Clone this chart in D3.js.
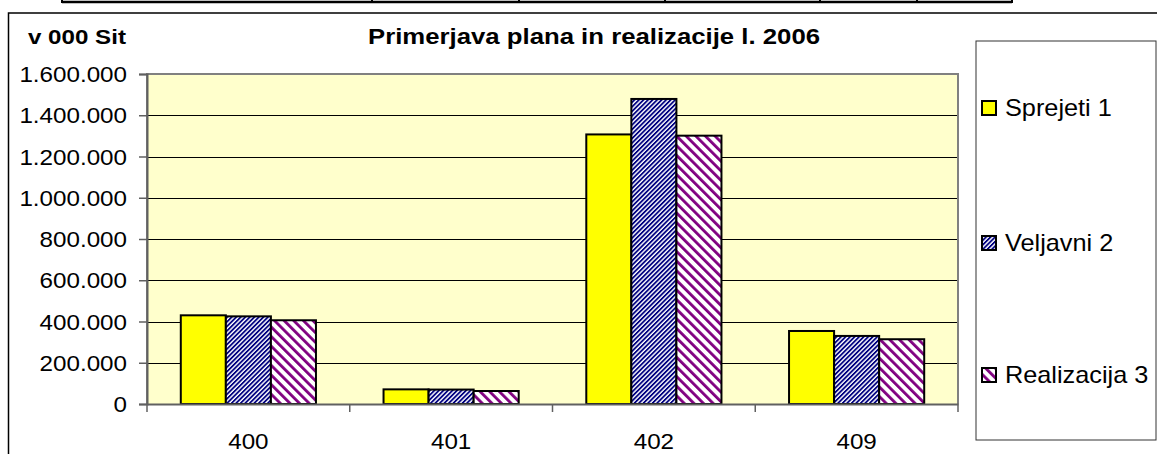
<!DOCTYPE html>
<html><head><meta charset="utf-8">
<script src="https://cdn.jsdelivr.net/npm/d3@7/dist/d3.min.js"></script>
<style>html,body{margin:0;padding:0;background:#fff;overflow:hidden}</style>
</head><body>
<svg id="c" width="1157" height="454"></svg>
<script>
const categories = ["400", "401", "402", "409"];
const seriesNames = ["Sprejeti 1", "Veljavni 2", "Realizacija 3"];
const sprejeti = [430000, 71000, 1307000, 354000];
const veljavni = [425000, 70000, 1479000, 330000];
const realizacija = [406000, 63000, 1301000, 314000];
const yTicks = [0, 200000, 400000, 600000, 800000, 1000000, 1200000, 1400000, 1600000];
const yTickLabels = ["0", "200.000", "400.000", "600.000", "800.000", "1.000.000", "1.200.000", "1.400.000", "1.600.000"];
const title = "Primerjava plana in realizacije l. 2006";
const unitLabel = "v 000 Sit";

const series = [sprejeti, veljavni, realizacija];
const svg = d3.select("#c");
const FONT = "'Liberation Sans', Arial, sans-serif";

// patterns
const defs = svg.append("defs");
function stripe(id, period, thick, color, angle) {
  const p = defs.append("pattern").attr("id", id).attr("patternUnits", "userSpaceOnUse")
    .attr("width", period).attr("height", period).attr("patternTransform", `rotate(${angle})`);
  p.append("rect").attr("width", period).attr("height", period).attr("fill", "#fff");
  p.append("rect").attr("width", thick).attr("height", period).attr("fill", color);
}
stripe("pBlue", 3.2, 1.8, "#000080", 45);
stripe("pPurple", 6.8, 2.8, "#800080", -45);
const fills = ["#FFFF00", "url(#pBlue)", "url(#pPurple)"];

// top table remnant
const tableX = [62, 372, 519, 665, 820, 917, 1012];
svg.append("line").attr("x1", 62).attr("x2", 1012).attr("y1", 2).attr("y2", 2).attr("stroke", "#000").attr("stroke-width", 2.5);
svg.selectAll(".tv").data(tableX).join("line").attr("x1", d => d).attr("x2", d => d).attr("y1", 0).attr("y2", 3).attr("stroke", "#000").attr("stroke-width", 2);

// chart frame
svg.append("rect").attr("x", 8.5).attr("y", 13).attr("width", 1200).attr("height", 500)
  .attr("fill", "#fff").attr("stroke", "#000").attr("stroke-width", 1.5);

const L = 147, R = 958, T = 74, B = 404;
const band = (R - L) / categories.length;
const xc = d3.scaleBand().domain(categories).range([L, R]);
const xs = d3.scaleBand().domain(d3.range(3)).range([0, band * 3 / 4.5]);
const y = d3.scaleLinear().domain([0, 1600000]).range([B, T]);

svg.append("rect").attr("x", L).attr("y", T).attr("width", R - L).attr("height", B - T).attr("fill", "#FFFFCC");

// gridlines
svg.append("g").selectAll("line").data(yTicks.slice(1)).join("line")
  .attr("x1", L).attr("x2", R).attr("y1", d => Math.round(y(d)) + 0.5).attr("y2", d => Math.round(y(d)) + 0.5)
  .attr("stroke", "#000").attr("stroke-width", 1);

// bars
const off = band * 0.75 / 4.5;
series.forEach((s, i) => {
  svg.append("g").selectAll("rect").data(s).join("rect")
    .attr("x", (d, j) => xc(categories[j]) + off + xs(i))
    .attr("y", d => y(d))
    .attr("width", xs.bandwidth())
    .attr("height", d => B - y(d))
    .attr("fill", fills[i]).attr("stroke", "#000").attr("stroke-width", 2);
});

// plot border (gray)
svg.append("path").attr("d", `M${L},${B}V${T}H${R}V${B}`).attr("fill", "none").attr("stroke", "#808080").attr("stroke-width", 2);

// axes
const yAxis = d3.axisLeft(y).tickValues(yTicks).tickSize(8).tickFormat((d, i) => yTickLabels[i]);
const gy = svg.append("g").attr("transform", `translate(${L},0)`).call(yAxis);
gy.select(".domain").attr("stroke", "#606060").attr("stroke-width", 2);
gy.selectAll(".tick line").attr("stroke", "#606060").attr("stroke-width", 1.5);
gy.selectAll(".tick text").remove();
const xAxis = d3.axisBottom(xc).tickSize(0).tickFormat("");
const gx = svg.append("g").attr("transform", `translate(0,${B})`).call(xAxis);
gx.select(".domain").attr("stroke", "#606060").attr("stroke-width", 2);
const tickXs = d3.range(categories.length + 1).map(i => L + i * band);
svg.append("g").selectAll("line").data(tickXs).join("line")
  .attr("x1", d => d).attr("x2", d => d).attr("y1", B).attr("y2", B + 8).attr("stroke", "#606060").attr("stroke-width", 1.5);

function txt(x, yy, s, size, anchor, weight, sx) {
  return svg.append("text").attr("transform", `translate(${x},${yy}) scale(${sx},1)`)
    .attr("text-anchor", anchor).attr("font-family", FONT).attr("font-size", size)
    .attr("font-weight", weight || "normal").attr("fill", "#000").text(s);
}
yTicks.forEach((v, i) => txt(127, y(v) + 8, yTickLabels[i], 22, "end", "normal", 1.1));
categories.forEach(c => txt(xc(c) + band / 2, 449, c, 22, "middle", "normal", 1.1));

txt(28, 44, unitLabel, 21, "start", "bold", 1.15);
txt(594, 44, title, 22, "middle", "bold", 1.17);

// legend
svg.append("rect").attr("x", 976).attr("y", 41).attr("width", 180).attr("height", 399)
  .attr("fill", "#fff").attr("stroke", "#333").attr("stroke-width", 1);
const legY = [108, 243, 375];
seriesNames.forEach((n, i) => {
  svg.append("rect").attr("x", 982).attr("y", legY[i] - 7).attr("width", 14).attr("height", 14)
    .attr("fill", fills[i]).attr("stroke", "#000").attr("stroke-width", 2);
  txt(1005, legY[i] + 8, n, 23, "start", "normal", 1.1);
});
</script>
</body></html>
